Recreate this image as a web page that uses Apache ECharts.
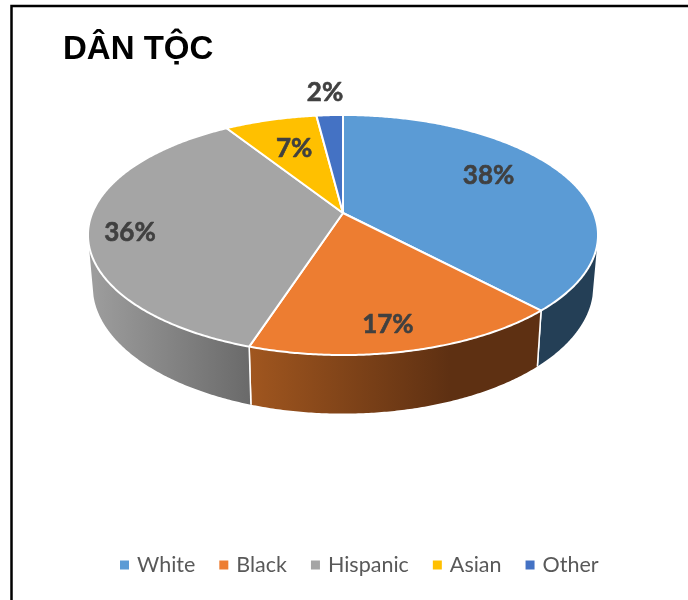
<!DOCTYPE html>
<html>
<head>
<meta charset="utf-8">
<style>html,body{margin:0;padding:0;background:#fff}#chart{width:688px;height:600px}</style>
<script src="https://cdn.jsdelivr.net/npm/echarts@6/dist/echarts.min.js"></script>
</head>
<body>
<div id="chart"></div>
<script>
// Ethnic composition, drawn as a tilted pie with a visible rim.
const categories = ['White', 'Black', 'Hispanic', 'Asian', 'Other'];
const shares = [38, 17, 36, 7, 2];
const chartTitle = 'DÂN TỘC';

const topColors = ['#5B9BD5', '#ED7D31', '#A5A5A5', '#FFC000', '#4472C4'];

// Where each share's label sits on the disc: clockwise angle from 12 o'clock, fraction of radius.
const labelAngles = [59.8, 169.3, 259.6, 341.1, 356.1];
const labelRadii = [0.716, 0.822, 0.84, 0.672, 1.306];

// Perspective projection of the unit disc onto the page.
const K = 0.1833;
const topFace = { cx: 343, cy: 213, a: 250.7, b: 116 };
const baseFace = { cx: 343, cy: 263, a: 246, b: 123 };
// Rim silhouettes: the wall is only visible between these clockwise angles.
const RIM_START = 105;
const RIM_END = 255;

function project(face, deg, r) {
  const t = deg * Math.PI / 180;
  const u = r * Math.sin(t);
  const v = -r * Math.cos(t);
  const w = 1 - K * v;
  return [face.cx + face.a * u / w, face.cy + face.b * v / w];
}

function arc(face, from, to) {
  const pts = [];
  const n = Math.max(2, Math.ceil(Math.abs(to - from) * 2));
  for (let i = 0; i <= n; i++) pts.push(project(face, from + (to - from) * i / n, 1));
  return pts;
}

function wallFill(index) {
  const grad = (x0, x1, c0, c1) => new echarts.graphic.LinearGradient(x0, 0, x1, 0,
    [{ offset: 0, color: c0 }, { offset: 1, color: c1 }], true);
  if (index === 0) return '#243F56';
  if (index === 1) return grad(250, 450, '#A0561F', '#5E3012');
  if (index === 2) return grad(95, 250, '#9C9C9C', '#6A6A6A');
  return '#555';
}

const total = shares.reduce((s, x) => s + x, 0);

function sliceRange(index) {
  let sum = 0;
  for (let i = 0; i < index; i++) sum += shares[i];
  return [sum / total * 360, (sum + shares[index]) / total * 360];
}

function renderSlice(index) {
  return function (params, api) {
    const value = api.value(0);
    const [start] = sliceRange(index);
    const end = start + value / total * 360;
    const children = [];
    const wallFrom = Math.max(start, RIM_START);
    const wallTo = Math.min(end, RIM_END);
    if (wallTo > wallFrom) {
      const upper = arc(topFace, wallFrom, wallTo);
      const lower = arc(baseFace, wallFrom, wallTo).reverse();
      children.push({
        type: 'polygon',
        shape: { points: upper.concat(lower) },
        style: { fill: wallFill(index), stroke: null }
      });
      // Thin white seam where two walls meet.
      [[wallFrom, start], [wallTo, end]].forEach(([edge, bound]) => {
        if (edge === bound) {
          children.push({
            type: 'line',
            shape: {
              x1: project(topFace, edge, 1)[0], y1: project(topFace, edge, 1)[1],
              x2: project(baseFace, edge, 1)[0], y2: project(baseFace, edge, 1)[1]
            },
            style: { stroke: '#fff', lineWidth: 1.5 }
          });
        }
      });
    }
    const face = [project(topFace, 0, 0)].concat(arc(topFace, start, end));
    children.push({
      type: 'polygon',
      shape: { points: face },
      style: { fill: topColors[index], stroke: '#fff', lineWidth: 2, lineJoin: 'round' }
    });
    const pos = project(topFace, labelAngles[index], labelRadii[index]);
    children.push({
      type: 'text',
      z2: 10,
      x: pos[0],
      y: pos[1] + 1.5,
      style: {
        text: value + '%',
        fill: '#404040',
        stroke: '#404040',
        lineWidth: 0.6,
        font: 'bold 26px Lato, "Open Sans", sans-serif',
        align: 'center',
        verticalAlign: 'middle'
      }
    });
    return { type: 'group', children };
  };
}

const chart = echarts.init(document.getElementById('chart'), null, { renderer: 'canvas' });
chart.setOption({
  animation: false,
  backgroundColor: '#fff',
  title: {
    text: chartTitle,
    left: 58,
    top: 28,
    textStyle: { fontFamily: '"Liberation Sans", Arial, sans-serif', fontWeight: 'bold', fontSize: 33, color: '#000' }
  },
  legend: {
    data: categories,
    bottom: 19,
    left: 115,
    itemWidth: 9,
    itemHeight: 9,
    itemGap: 24,
    icon: 'rect',
    selectedMode: false,
    textStyle: { fontFamily: 'Lato, "Open Sans", sans-serif', fontSize: 21.5, color: '#595959', padding: [0, 0, 0, 3] }
  },
  graphic: [
    {
      type: 'polyline',
      silent: true,
      shape: { points: [[11.5, 600], [11.5, 6], [688, 6]] },
      style: { fill: null, stroke: '#000', lineWidth: 2.5 }
    }
  ],
  series: categories.map((name, index) => ({
    type: 'custom',
    name,
    coordinateSystem: 'none',
    itemStyle: { color: topColors[index] },
    renderItem: renderSlice(index),
    data: [[shares[index]]],
    clip: false
  }))
});
</script>
</body>
</html>
